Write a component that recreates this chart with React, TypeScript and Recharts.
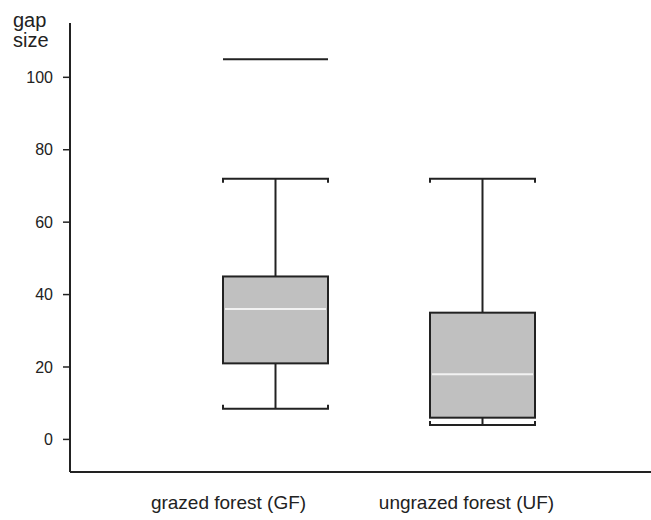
import { Bar, ComposedChart, Customized, XAxis, YAxis } from 'recharts';

const categories = ['grazed forest (GF)', 'ungrazed forest (UF)'];
const lowerWhisker = [8.5, 4];
const q1 = [21, 6];
const median = [36, 18];
const q3 = [45, 35];
const upperWhisker = [72, 72];
const extreme: (number | null)[] = [105, null];
const yTicks = [0, 20, 40, 60, 80, 100];

const data = categories.map((name, i) => ({
  name,
  low: lowerWhisker[i],
  q1: q1[i],
  median: median[i],
  q3: q3[i],
  high: upperWhisker[i],
  extreme: extreme[i],
  span: [lowerWhisker[i], extreme[i] ?? upperWhisker[i]],
}));

const INK = '#222';
const BOX_FILL = '#c0c0c0';
const FONT = "'Liberation Sans', Arial, sans-serif";
// labels in the original sit a little left of their boxes
const LABEL_SHIFT = [-47, -16];

function BoxShape(props: any) {
  const { x, y, width, height, payload } = props;
  const lo = payload.span[0];
  const hi = payload.span[1];
  const k = height / (hi - lo);
  const py = (v: number) => y + (hi - v) * k;
  const cx = x + width / 2;
  const left = x;
  const right = x + width;
  const tick = 4;

  return (
    <g>
      {payload.extreme != null && (
        <line x1={left} x2={right} y1={py(payload.extreme)} y2={py(payload.extreme)} stroke={INK} strokeWidth={2} />
      )}
      {/* whiskers */}
      <line x1={cx} x2={cx} y1={py(payload.high)} y2={py(payload.q3)} stroke={INK} strokeWidth={2} />
      <line x1={cx} x2={cx} y1={py(payload.q1)} y2={py(payload.low)} stroke={INK} strokeWidth={2} />
      <path
        d={`M${left},${py(payload.high) + tick} V${py(payload.high)} H${right} V${py(payload.high) + tick}`}
        fill="none"
        stroke={INK}
        strokeWidth={2}
      />
      <path
        d={`M${left},${py(payload.low) - tick} V${py(payload.low)} H${right} V${py(payload.low) - tick}`}
        fill="none"
        stroke={INK}
        strokeWidth={2}
      />
      {/* box */}
      <rect
        x={left}
        y={py(payload.q3)}
        width={width}
        height={py(payload.q1) - py(payload.q3)}
        fill={BOX_FILL}
        stroke={INK}
        strokeWidth={2}
      />
      <line
        x1={left + 2}
        x2={right - 2}
        y1={py(payload.median)}
        y2={py(payload.median)}
        stroke="#f2f2f2"
        strokeWidth={2}
      />
    </g>
  );
}

function CategoryTick(props: any) {
  const { x, y, payload, index } = props;
  return (
    <text
      x={x + (LABEL_SHIFT[index] ?? 0)}
      y={y}
      dy="0.71em"
      textAnchor="middle"
      fill={INK}
      fontSize={19}
      fontFamily={FONT}
    >
      {payload.value}
    </text>
  );
}

function AxisTitle() {
  return (
    <text x={13} y={27} fill={INK} fontSize={20} fontFamily={FONT}>
      <tspan x={13}>gap</tspan>
      <tspan x={13} dy={20}>size</tspan>
    </text>
  );
}

export default function App() {
  return (
    <div style={{ position: 'absolute', left: 0, top: 0, width: 651, height: 520, background: '#fff' }}>
      <ComposedChart
        width={651}
        height={520}
        data={data}
        margin={{ top: 23, right: 0, bottom: 18, left: 0 }}
        style={{ fontFamily: FONT }}
      >
        <XAxis
          dataKey="name"
          padding={{ left: 102, right: 65 }}
          tickLine={false}
          axisLine={{ stroke: INK, strokeWidth: 2 }}
          tick={<CategoryTick />}
          tickMargin={18}
          interval={0}
        />
        <YAxis
          type="number"
          domain={[-9, 115]}
          ticks={yTicks}
          width={70}
          tickSize={7}
          tickLine={{ stroke: INK, strokeWidth: 1.5 }}
          axisLine={{ stroke: INK, strokeWidth: 2 }}
          tick={{ fill: INK, fontSize: 16 }}
          tickMargin={10}
          allowDataOverflow
        />
        <Bar dataKey="span" barSize={105} shape={<BoxShape />} isAnimationActive={false} />
        <Customized component={AxisTitle} />
      </ComposedChart>
    </div>
  );
}
